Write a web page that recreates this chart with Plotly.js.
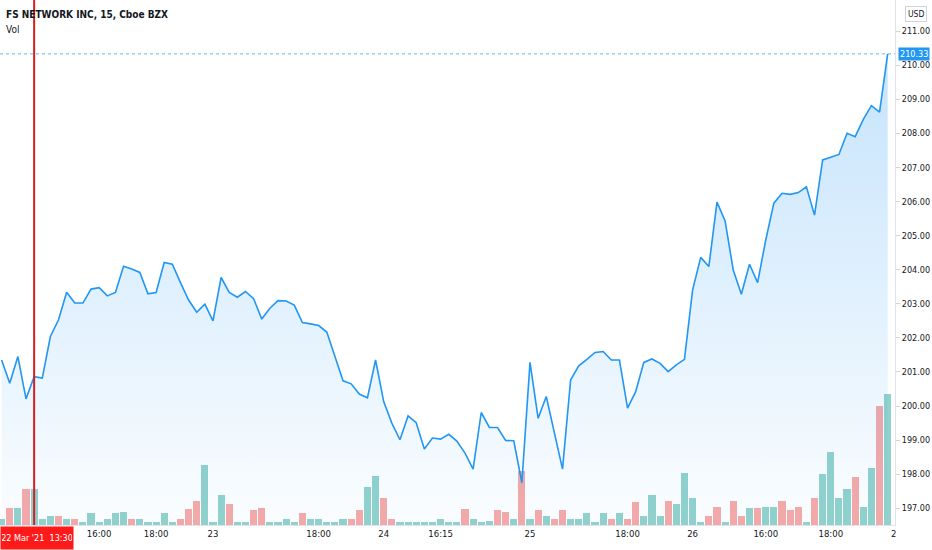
<!DOCTYPE html>
<html>
<head>
<meta charset="utf-8">
<script src="https://cdn.plot.ly/plotly-3.0.1.min.js"></script>
<style>
  html, body { margin: 0; padding: 0; background: #ffffff; }
  #chart { width: 932px; height: 550px; }
</style>
</head>
<body>
<div id="chart"></div>
<script>
// 15-minute closes, one per bar
const closes = [
  201.35, 200.67, 201.45, 200.21, 200.86, 200.82, 202.04, 202.53, 203.34, 203.02,
  203.02, 203.43, 203.47, 203.23, 203.33, 204.10, 204.02, 203.92, 203.29, 203.33,
  204.21, 204.16, 203.62, 203.11, 202.75, 202.99, 202.50, 203.77, 203.33, 203.19,
  203.36, 203.15, 202.55, 202.87, 203.09, 203.08, 202.96, 202.45, 202.41, 202.36,
  202.17, 201.45, 200.74, 200.65, 200.35, 200.24, 201.35, 200.13, 199.50, 199.01,
  199.71, 199.51, 198.74, 199.06, 199.03, 199.17, 198.97, 198.62, 198.15, 199.81,
  199.37, 199.37, 198.99, 198.98, 197.75, 201.28, 199.64, 200.28, 199.20, 198.15,
  200.77, 201.18, 201.37, 201.57, 201.60, 201.35, 201.35, 199.94, 200.42, 201.28,
  201.38, 201.25, 201.01, 201.21, 201.37, 203.40, 204.36, 204.09, 205.98, 205.43,
  203.99, 203.28, 204.16, 203.62, 204.87, 205.95, 206.24, 206.21, 206.26, 206.43,
  205.60, 207.22, 207.30, 207.38, 208.00, 207.90, 208.41, 208.81, 208.62, 210.33
];

const volumes = [
  1900, 5200, 5200, 10800, 10800, 1900, 2700, 2700, 1900, 1900,
  900, 3700, 900, 1900, 3500, 3800, 1900, 1900, 900, 900,
  3700, 900, 1900, 4800, 7100, 18100, 900, 8900, 6400, 900,
  900, 4500, 5200, 900, 900, 1900, 900, 3700, 1900, 1900,
  900, 900, 1900, 1900, 4500, 11500, 14700, 8200, 1900, 900,
  900, 900, 900, 900, 1900, 900, 900, 4800, 1900, 900,
  1100, 4500, 3800, 1900, 16300, 1900, 4500, 2700, 1900, 4500,
  1900, 1900, 3700, 900, 3700, 1900, 3700, 1900, 6900, 2700,
  9000, 2700, 7200, 6400, 15700, 8200, 900, 2700, 5300, 900,
  7200, 2700, 5200, 5200, 5500, 5500, 7300, 4500, 5300, 900,
  8200, 15200, 21900, 8200, 10800, 14400, 5300, 17000, 35800, 39300
];

// 1 = close above open (teal), 0 = close below open (red)
const upBar = [
  1, 0, 1, 0, 1, 1, 1, 0, 1, 0,
  1, 1, 1, 1, 1, 1, 0, 1, 1, 1,
  1, 1, 0, 0, 0, 1, 1, 1, 0, 1,
  1, 0, 0, 1, 1, 1, 1, 0, 1, 1,
  1, 1, 1, 0, 0, 1, 1, 0, 0, 1,
  1, 1, 1, 1, 1, 1, 1, 0, 1, 1,
  1, 0, 0, 1, 0, 1, 0, 1, 0, 0,
  1, 1, 1, 1, 1, 0, 1, 0, 0, 1,
  1, 1, 0, 1, 1, 1, 1, 0, 0, 1,
  0, 0, 1, 0, 1, 1, 0, 0, 0, 1,
  0, 1, 1, 1, 1, 0, 1, 1, 0, 1
];

const tickBars = [12, 19, 26, 39, 47, 54, 65, 77, 85, 94, 102, 109.75];
const tickLabels = ["16:00", "18:00", "23", "18:00", "24", "16:15", "25", "18:00", "26", "16:00", "18:00", "2"];

const markerBar = 4;
const markerLabel = "22 Mar '21\u00a0\u00a013:30";
const lastPrice = closes[closes.length - 1];

const FONT = "'DejaVu Sans Condensed', 'Liberation Sans Narrow', 'Liberation Sans', sans-serif";
const bars = closes.map((_, i) => i);

const volTrace = {
  x: bars,
  y: volumes,
  type: "bar",
  yaxis: "y",
  width: 0.88,
  marker: {
    color: upBar.map(u => u ? "rgba(38,166,154,0.5)" : "rgba(239,83,80,0.5)"),
    line: { width: 0 }
  },
  hoverinfo: "skip"
};

const priceTrace = {
  x: bars,
  y: closes,
  type: "scatter",
  mode: "lines",
  yaxis: "y2",
  line: { color: "#2196f3", width: 1.6 },
  fill: "tozeroy",
  fillgradient: {
    type: "vertical",
    start: 196.5,
    stop: 210.4,
    colorscale: [
      [0, "rgba(33,150,243,0.02)"],
      [1, "rgba(33,150,243,0.26)"]
    ]
  },
  hoverinfo: "skip"
};

const layout = {
  width: 932,
  height: 550,
  paper_bgcolor: "#ffffff",
  plot_bgcolor: "#ffffff",
  font: { family: FONT, size: 9.5, color: "#131722" },
  margin: { l: 0, r: 37, t: 0, b: 25 },
  showlegend: false,
  bargap: 0,
  xaxis: {
    range: [-0.2, 109.9],
    tickmode: "array",
    tickvals: tickBars,
    ticktext: tickLabels,
    showgrid: false,
    zeroline: false,
    showline: true,
    linecolor: "#e0e3eb",
    ticks: "",
    tickfont: { size: 9.5, color: "#131722" },
    fixedrange: true
  },
  yaxis: {
    range: [0, 157500],
    visible: false,
    fixedrange: true
  },
  yaxis2: {
    overlaying: "y",
    side: "right",
    anchor: "x",
    range: [196.51, 211.91],
    tick0: 197,
    dtick: 1,
    tickformat: ".2f",
    showgrid: false,
    zeroline: false,
    showline: true,
    linecolor: "#e0e3eb",
    ticks: "outside",
    ticklen: 4,
    tickcolor: "#d1d4dc",
    tickfont: { size: 9, color: "#131722" },
    fixedrange: true
  },
  shapes: [
    {
      type: "line", xref: "paper", yref: "y2",
      x0: 0, x1: 1, y0: lastPrice, y1: lastPrice,
      line: { color: "rgba(33,150,243,0.7)", width: 1, dash: "dot" }
    },
    {
      type: "line", xref: "x", yref: "paper",
      x0: markerBar, x1: markerBar, y0: 0, y1: 1,
      line: { color: "#d81e1e", width: 2 }
    }
  ],
  annotations: [
    {
      xref: "paper", yref: "paper", x: 0, y: 1,
      xanchor: "left", yanchor: "middle", xshift: 4, yshift: -14,
      text: "<b>FS NETWORK INC, 15, Cboe BZX</b>", showarrow: false,
      font: { size: 10, color: "#131722" }
    },
    {
      xref: "paper", yref: "paper", x: 0, y: 1,
      xanchor: "left", yanchor: "middle", xshift: 4, yshift: -29,
      text: "Vol", showarrow: false,
      font: { size: 10, color: "#131722" }
    },
    {
      xref: "paper", yref: "paper", x: 1, y: 1,
      xanchor: "left", yanchor: "top", xshift: 10, yshift: -6,
      text: "USD", showarrow: false,
      bordercolor: "#d1d4dc", borderwidth: 1, borderpad: 2,
      font: { size: 8.5, color: "#131722" }
    },
    {
      xref: "paper", yref: "y2", x: 1, y: lastPrice,
      xanchor: "left", yanchor: "middle", xshift: 3,
      text: lastPrice.toFixed(2), showarrow: false,
      bgcolor: "#2196f3", borderpad: 1,
      font: { size: 9, color: "#ffffff" }
    },
    {
      xref: "paper", yref: "paper", x: 0, y: 0,
      xanchor: "left", yanchor: "top", yshift: -1,
      width: 70, height: 20,
      text: markerLabel, showarrow: false,
      bgcolor: "#ff1a1a",
      font: { size: 9, color: "#ffffff" }
    }
  ]
};

Plotly.newPlot("chart", [volTrace, priceTrace], layout, { displayModeBar: false, staticPlot: true });
</script>
</body>
</html>
